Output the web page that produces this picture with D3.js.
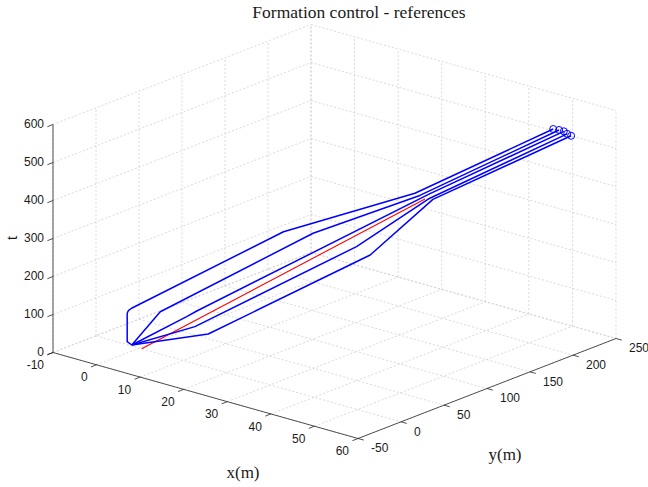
<!DOCTYPE html>
<html>
<head>
<meta charset="utf-8">
<script src="https://cdn.jsdelivr.net/npm/d3@7"></script>
<style>
  body { margin: 0; background: #fff; }
  text { fill: #1a1a1a; }
</style>
</head>
<body>
<svg id="chart" width="648" height="487"></svg>
<script>
// tick values
const xTicks = [-10, 0, 10, 20, 30, 40, 50, 60];
const yTicks = [-50, 0, 50, 100, 150, 200, 250];
const tTicks = [0, 100, 200, 300, 400, 500, 600];

// red reference path (x, y, t)
const refX = [0.5, 37.6];
const refY = [0, 141.4];
const refT = [0, 390];

// blue agent references (x, y, t) at breakpoints
const agent1X = [-2.1, -2.8, -2.8, -2.6, -1.7, 13.1, 34.3, 54.1];
const agent1Y = [1.6, -0.2, -0.2, 0.1, -0.7, 101.0, 146.4, 206.9];
const agent1T = [0, 8, 83, 90, 100, 260, 390, 570];

const agent2X = [-2.1, -0.6, 19.5, 35.7, 55.2];
const agent2Y = [1.6, 27.1, 103.0, 145.0, 208.1];
const agent2T = [0, 70, 275, 390, 570];

const agent3X = [-2.1, 5.9, 7.9, 37.1, 56.3];
const agent3Y = [1.6, 24.9, 26.5, 149.8, 208.1];
const agent3T = [0, 80, 100, 395, 570];

const agent4X = [-2.1, 7.8, 29.2, 37.4, 57.6];
const agent4Y = [1.6, 24.8, 104.3, 146.2, 205.4];
const agent4T = [0, 60, 270, 385, 570];

const agent5X = [-2.1, 12.1, 33.9, 38.8, 58.8];
const agent5Y = [1.6, 18.6, 96.4, 144.5, 203.9];
const agent5T = [0, 60, 270, 390, 570];

const agents = [
  [agent1X, agent1Y, agent1T],
  [agent2X, agent2Y, agent2T],
  [agent3X, agent3Y, agent3T],
  [agent4X, agent4Y, agent4T],
  [agent5X, agent5Y, agent5T]
];

const svg = d3.select('#chart');

// 3D box -> screen (fixed view, like matlab's default 3d)
const xs = d3.scaleLinear().domain([-10, 60]).range([0, 1]);
const ys = d3.scaleLinear().domain([-50, 250]).range([0, 1]);
const zs = d3.scaleLinear().domain([0, 600]).range([0, 1]);
const origin = [53, 352.5];
const ex = [305, 86], ey = [258, -100], ez = [0, -228];

function proj(x, y, z) {
  const a = xs(x), b = ys(y), c = zs(z);
  return [origin[0] + a * ex[0] + b * ey[0] + c * ez[0],
          origin[1] + a * ex[1] + b * ey[1] + c * ez[1]];
}

const line = d3.line().x(d => d[0]).y(d => d[1]);
const seg = (p, q) => line([p, q]);

// grid on the back walls and floor
const grid = svg.append('g')
  .attr('fill', 'none')
  .attr('stroke', '#cfcfcf')
  .attr('stroke-width', 0.8)
  .attr('stroke-dasharray', '2,2');

const gridSegs = [];
xTicks.forEach(x => {
  gridSegs.push([proj(x, -50, 0), proj(x, 250, 0)]);
  gridSegs.push([proj(x, 250, 0), proj(x, 250, 600)]);
});
yTicks.forEach(y => {
  gridSegs.push([proj(-10, y, 0), proj(60, y, 0)]);
  gridSegs.push([proj(-10, y, 0), proj(-10, y, 600)]);
});
tTicks.forEach(t => {
  gridSegs.push([proj(-10, -50, t), proj(-10, 250, t)]);
  gridSegs.push([proj(-10, 250, t), proj(60, 250, t)]);
});
grid.selectAll('path').data(gridSegs).join('path').attr('d', d => seg(d[0], d[1]));

// axes
const axes = svg.append('g').attr('stroke', '#262626').attr('stroke-width', 0.8).attr('fill', 'none');
axes.append('path').attr('d', seg(proj(-10, -50, 0), proj(60, -50, 0)));
axes.append('path').attr('d', seg(proj(60, -50, 0), proj(60, 250, 0)));
axes.append('path').attr('d', seg(proj(-10, -50, 0), proj(-10, -50, 600)));

const tickFont = 'Liberation Sans, Arial, sans-serif';
const labels = svg.append('g').attr('font-family', tickFont).attr('font-size', 12);

xTicks.forEach(x => {
  const p = proj(x, -50, 0);
  axes.append('path').attr('d', seg(p, [p[0] - 5.6, p[1] + 2.2]));
  labels.append('text').attr('x', p[0] - 9).attr('y', p[1] + 13.5)
    .attr('text-anchor', 'end').attr('dominant-baseline', 'middle').text(x);
});
yTicks.forEach(y => {
  const p = proj(60, y, 0);
  axes.append('path').attr('d', seg(p, [p[0] + 5.8, p[1] + 1.6]));
  labels.append('text').attr('x', p[0] + 13).attr('y', p[1] + 10.5)
    .attr('text-anchor', 'start').attr('dominant-baseline', 'middle').text(y);
});
tTicks.forEach(t => {
  const p = proj(-10, -50, t);
  axes.append('path').attr('d', seg(p, [p[0] - 5.6, p[1] + 2.2]));
  labels.append('text').attr('x', p[0] - 9).attr('y', p[1])
    .attr('text-anchor', 'end').attr('dominant-baseline', 'middle').text(t);
});

// data
const toPts = (X, Y, T) => X.map((x, i) => proj(x, Y[i], T[i]));

svg.append('path')
  .attr('d', line(toPts(refX, refY, refT)))
  .attr('fill', 'none').attr('stroke', '#ff0000').attr('stroke-width', 1.1);

const agentG = svg.append('g');
agents.forEach(([X, Y, T]) => {
  const pts = toPts(X, Y, T);
  agentG.append('path')
    .attr('d', line(pts))
    .attr('fill', 'none').attr('stroke', '#0000ff').attr('stroke-width', 1.5)
    .attr('stroke-linejoin', 'round');
  const end = pts[pts.length - 1];
  agentG.append('circle')
    .attr('cx', end[0]).attr('cy', end[1]).attr('r', 3.5)
    .attr('fill', 'none').attr('stroke', '#0000ff').attr('stroke-width', 1);
});

// titles
const serif = 'Liberation Serif, Times New Roman, serif';
svg.append('text').attr('x', 359).attr('y', 18).attr('text-anchor', 'middle')
  .attr('font-family', serif).attr('font-size', 17.5).text('Formation control - references');
svg.append('text').attr('x', 243).attr('y', 478).attr('text-anchor', 'middle')
  .attr('font-family', serif).attr('font-size', 17).text('x(m)');
svg.append('text').attr('x', 505).attr('y', 460).attr('text-anchor', 'middle')
  .attr('font-family', serif).attr('font-size', 17).text('y(m)');
svg.append('text').attr('transform', 'translate(17,238) rotate(-90)').attr('text-anchor', 'middle')
  .attr('font-family', serif).attr('font-size', 17).text('t');
</script>
</body>
</html>
